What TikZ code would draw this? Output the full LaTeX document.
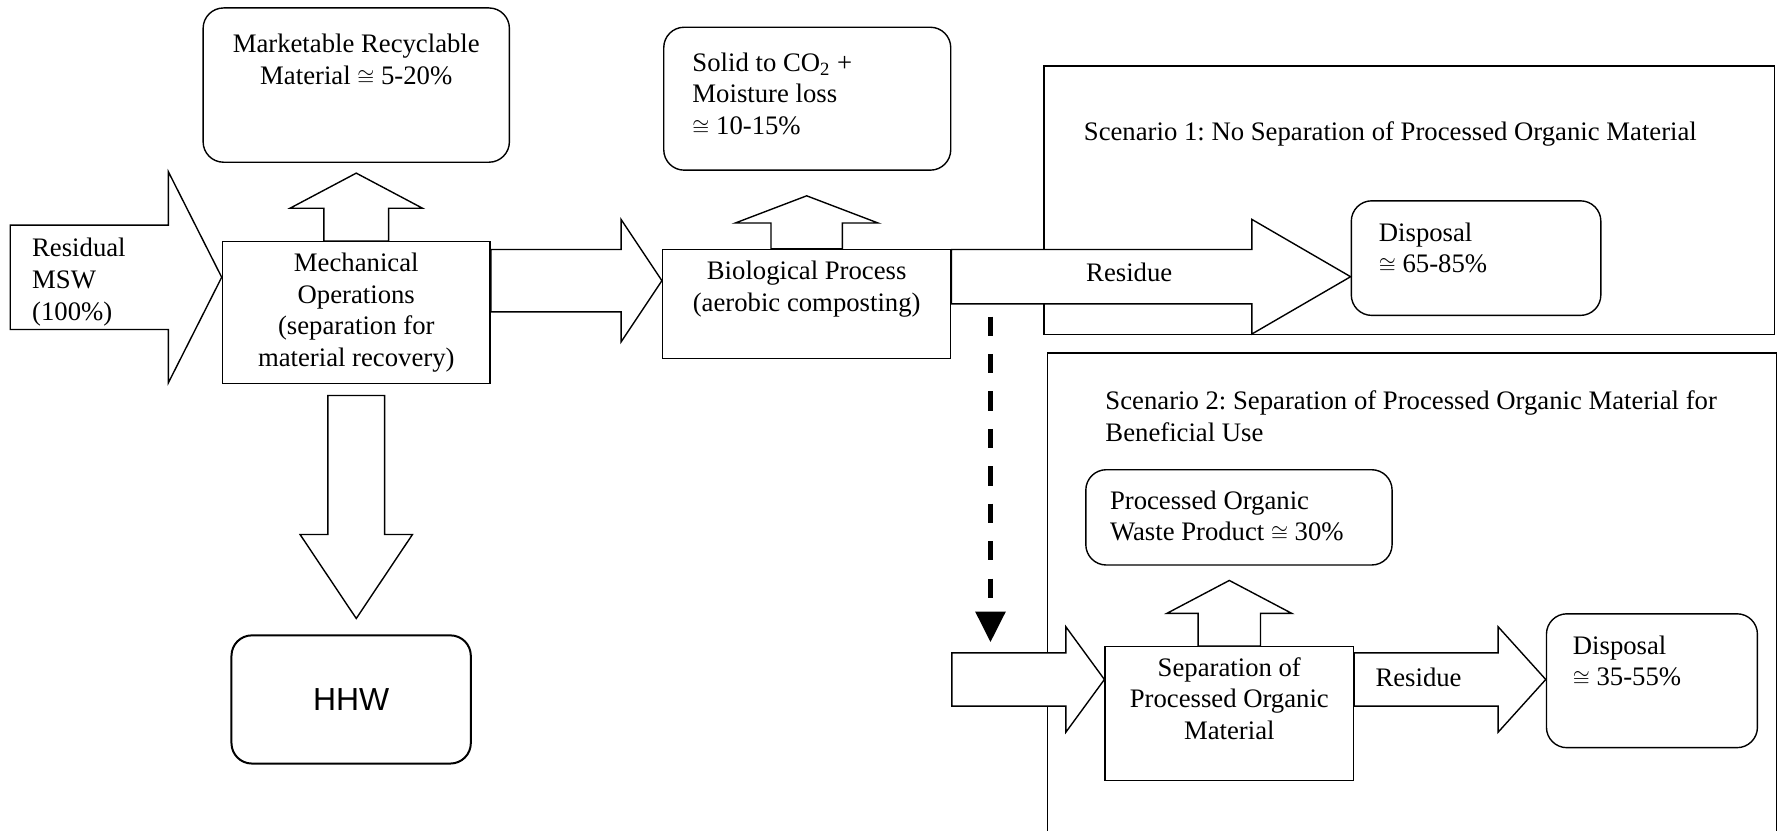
\documentclass[tikz,border=0pt]{standalone}
\usepackage{fontspec}
\setmainfont{Liberation Serif}
\newfontfamily\hhwfont{Liberation Sans}
\usetikzlibrary{arrows.meta,calc}
\frenchspacing
\newcommand{\fs}{\fontsize{13.4}{15.9}\selectfont}
\newcommand{\cg}{{\fontsize{11}{12}\selectfont$\cong$}}
\tikzset{
	rbox/.style={draw, line width=0.7pt, rounded corners=0.36cm, inner sep=0pt},
	sbox/.style={draw, line width=0.7pt, inner sep=0pt},
	txt/.style={inner sep=0pt, font=\fs},
	blk/.style={draw, fill=white, line width=0.7pt, line join=miter},
	dasharr/.style={line width=2.3pt, dash pattern=on 0.34cm off 0.32cm, -{Triangle[width=0.52cm,length=0.54cm]}},
}
% block arrows: tail, tip, shaft half width, head half width, head length
\newcommand{\rblock}[5]{%
	\draw[blk] let \p1=#1, \p2=#2 in
		(\x1,\y2+#3) -- (\x2-#5,\y2+#3) -- (\x2-#5,\y2+#4) -- (\x2,\y2)
		-- (\x2-#5,\y2-#4) -- (\x2-#5,\y2-#3) -- (\x1,\y2-#3) -- cycle;}
\newcommand{\ublock}[5]{%
	\draw[blk] let \p1=#1, \p2=#2 in
		(\x1-#3,\y1) -- (\x1-#3,\y2-#5) -- (\x1-#4,\y2-#5) -- (\x1,\y2)
		-- (\x1+#4,\y2-#5) -- (\x1+#3,\y2-#5) -- (\x1+#3,\y1) -- cycle;}
\newcommand{\dblock}[5]{%
	\draw[blk] let \p1=#1, \p2=#2 in
		(\x1-#3,\y1) -- (\x1-#3,\y2+#5) -- (\x1-#4,\y2+#5) -- (\x1,\y2)
		-- (\x1+#4,\y2+#5) -- (\x1+#3,\y2+#5) -- (\x1+#3,\y1) -- cycle;}
\begin{document}
\begin{tikzpicture}[x=0.02cm, y=-0.02cm]
	\useasboundingbox (0,0) rectangle (1568,732);
	% scenario frames
	\node[sbox, minimum width=12.88cm, minimum height=4.74cm] (scenone) at (1242,176.5) {};
	\draw[line width=0.7pt] (923,732) -- (923,311) -- (1566,311) -- (1566,732);

	% boxes
	\node[rbox, minimum width=5.4cm, minimum height=2.72cm] (market) at (314,75) {};
	\node[sbox, minimum width=4.72cm, minimum height=2.5cm, font=\fs, align=center] (mech) at (314,275.5) {Mechanical\\Operations\\(separation for\\material recovery)};
	\node[rbox, line width=1pt, minimum width=4.22cm, minimum height=2.26cm, font=\hhwfont\fontsize{16}{19}\selectfont] (hhw) at (309.5,616.5) {HHW};
	\node[rbox, minimum width=5.06cm, minimum height=2.52cm] (solid) at (711.5,87) {};
	\node[sbox, minimum width=5.08cm, minimum height=1.92cm] (bio) at (711,268) {};
	\node[rbox, minimum width=4.4cm, minimum height=2.02cm] (dispone) at (1301,227.5) {};
	\node[rbox, minimum width=5.4cm, minimum height=1.68cm] (proc) at (1092,456) {};
	\node[sbox, minimum width=4.38cm, minimum height=2.36cm] (sep) at (1083.5,629) {};
	\node[rbox, minimum width=3.72cm, minimum height=2.36cm] (disptwo) at (1456,600) {};

	% block arrows
	\coordinate (mswtail) at (9,245);
	\coordinate (stwotail) at (839,599.5);
	\rblock{(mswtail)}{($(mech.north west)+(0,32)$)}{0.92cm}{1.86cm}{0.94cm}
	\ublock{(mech.north)}{($(market.south)+(0,9)$)}{0.57cm}{1.17cm}{0.62cm}
	\dblock{($(mech.south)+(0,10)$)}{($(hhw.north)+(0,-14)$)}{0.5cm}{0.99cm}{1.48cm}
	\rblock{(mech.east)}{($(bio.north west)+(0,28)$)}{0.55cm}{1.08cm}{0.72cm}
	\ublock{(bio.north)}{($(solid.south)+(0,22)$)}{0.63cm}{1.26cm}{0.48cm}
	\rblock{(bio.east)}{($(dispone.north west)+(0,67.5)$)}{0.48cm}{1.01cm}{1.74cm}
	\rblock{(stwotail)}{($(sep.north west)+(0,29.5)$)}{0.47cm}{0.93cm}{0.68cm}
	\ublock{(sep.north)}{($(proc.south)+(0,13)$)}{0.55cm}{1.1cm}{0.58cm}
	\rblock{(sep.east)}{($(disptwo.north west)+(0,58.5)$)}{0.47cm}{0.93cm}{0.84cm}

	% dashed link to scenario 2
	\coordinate (dtop) at (873,279);
	\coordinate (dend) at (873,566);
	\draw[dasharr] (dtop) -- (dend);

	% texts
	\node[txt, anchor=north west, align=left] (msw) at (28,209.6) {Residual\\MSW\\(100\%)};
	\node[txt, anchor=north, align=center] (markettxt) at (314,29.6) {Marketable Recyclable\\Material \cg{} 5-20\%};
	\node[txt, anchor=north west, align=left] (solidtxt) at (610,46) {Solid to CO\textsubscript{2} +\\Moisture loss\\\cg{} 10-15\%};
	\node[txt, anchor=north, align=center] (biotxt) at (711,230) {Biological Process\\(aerobic composting)};
	\node[txt, anchor=north west] (resone) at (957,231) {Residue};
	\node[txt, anchor=north west] (sceneonetxt) at (955,107) {Scenario 1: No Separation of Processed Organic Material};
	\node[txt, anchor=north west, align=left] (disponetxt) at (1215,196) {Disposal\\\cg{} 65-85\%};
	\node[txt, anchor=north west, align=left] (scentwotxt) at (974,344) {Scenario 2: Separation of Processed Organic Material for\\Beneficial Use};
	\node[txt, anchor=north west, align=left] (proctxt) at (978,432) {Processed Organic\\Waste Product \cg{} 30\%};
	\node[txt, anchor=north, align=center] (septxt) at (1083.5,579) {Separation of\\Processed Organic\\Material};
	\node[txt, anchor=north west] (restwo) at (1212,588) {Residue};
	\node[txt, anchor=north west, align=left] (disptwotxt) at (1386,560) {Disposal\\\cg{} 35-55\%};
\end{tikzpicture}
\end{document}
